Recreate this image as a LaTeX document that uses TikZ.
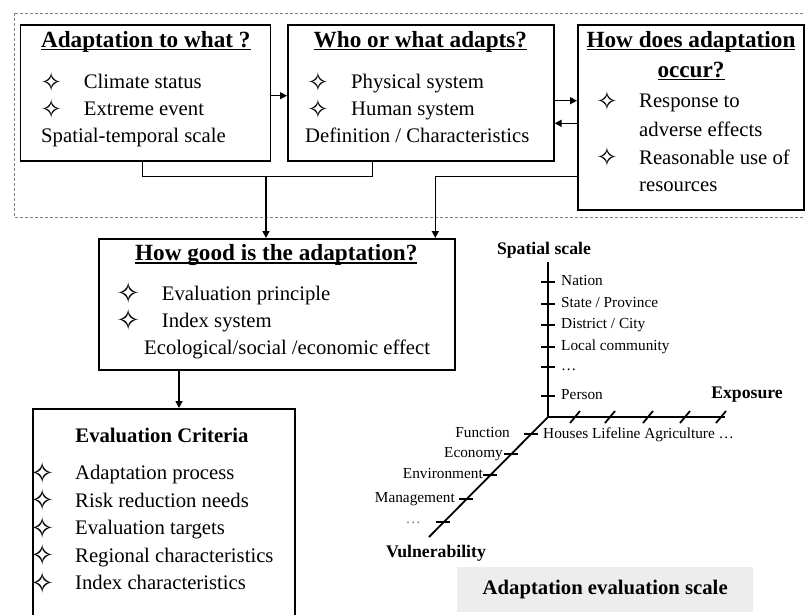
\documentclass[tikz,border=0pt]{standalone}
\usepackage{fontspec}
\setmainfont{Liberation Serif}
\newfontfamily\symfont{DejaVu Sans}
\usetikzlibrary{arrows.meta,calc}
\newcommand\ulx[1]{\setbox0\hbox{#1}\rlap{\rule[-2.8pt]{\wd0}{1.3pt}}\box0}
\newcommand\starg[1]{{\fontsize{#1}{#1}\symfont\setbox2\hbox{✧}\raisebox{\dimexpr(\dp2-\ht2)/2\relax}[3pt][3pt]{\copy2}}}
\newcommand\sa{\starg{26pt}}
\newcommand\sbb{\starg{29pt}}
\begin{document}
\begin{tikzpicture}[x=1pt,y=-1pt,
 box/.style={draw, line width=1.6pt, inner sep=0pt, anchor=north west},
 arr/.style={line width=1.4pt, -{Triangle[length=7pt,width=7pt]}},
 con/.style={line width=1.4pt},
 body/.style={font=\fontsize{20.7}{24}\selectfont, inner sep=0pt, anchor=base west},
 ttl/.style={font=\fontsize{23.2}{26}\selectfont\bfseries, inner sep=0pt, anchor=base},
 sym/.style={inner sep=0pt},
 lab/.style={font=\fontsize{15.3}{17}\selectfont, inner sep=0pt, text height=10.5pt, text depth=3pt},
 axn/.style={font=\fontsize{17.7}{20}\selectfont\bfseries, inner sep=0pt},
 ax/.style={line width=1.8pt},
]
\useasboundingbox (0,0) rectangle (805,614);
\clip (0,0) rectangle (805,614);

% dashed group
\draw[gray, line width=0.9pt, dash pattern=on 3pt off 2pt] (14,13) rectangle (812,217);

% boxes
\node[box, minimum width=250pt, minimum height=136pt] (b1) at (19.5,24) {};
\node[box, minimum width=266pt, minimum height=136pt] (b2) at (287,24) {};
\node[box, minimum width=226pt, minimum height=185pt] (b3) at (577,24) {};
\node[box, minimum width=356pt, minimum height=131pt] (hg) at (98,238) {};
\node[box, minimum width=262pt, minimum height=230pt] (ec) at (32,408) {};

% box 1
\node[ttl] (t1) at (145.8,47) {\ulx{Adaptation to what ?}};
\node[sym] (s11) at (51.3,81.7) {\sa};
\node[body] (x11) at (83.7,88.7) {Climate status};
\node[sym] (s12) at (51.3,108.7) {\sa};
\node[body] (x12) at (83.7,115.7) {Extreme event};
\node[body] (x13) at (41,142.7) {Spatial-temporal scale};

% box 2
\node[ttl] (t2) at (420.4,47) {\ulx{Who or what adapts?}};
\node[sym] (s21) at (318,81.7) {\sa};
\node[body] (x21) at (351,88.7) {Physical system};
\node[sym] (s22) at (318,108.7) {\sa};
\node[body] (x22) at (351,115.7) {Human system};
\node[body] (x23) at (305,142.7) {Definition / Characteristics};

% box 3
\node[ttl] (t3a) at (691,47) {\ulx{How does adaptation}};
\node[ttl] (t3b) at (691,77) {\ulx{occur?}};
\node[sym] (s31) at (607,100.5) {\sa};
\node[body] (x31) at (639,107.5) {Response to};
\node[body] (x32) at (639,136.7) {adverse effects};
\node[sym] (s33) at (607,157.3) {\sa};
\node[body] (x33) at (639,164.3) {Reasonable use of};
\node[body] (x34) at (639,191.7) {resources};

% how good box
\node[ttl] (t4) at (276.3,260.7) {\ulx{How good is the adaptation?}};
\node[sym] (s41) at (129,293.3) {\sbb};
\node[body] (x41) at (161.7,300.3) {Evaluation principle};
\node[sym] (s42) at (129,320) {\sbb};
\node[body] (x42) at (161.7,327) {Index system};
\node[body] (x43) at (144,354.7) {Ecological/social /economic effect};

% evaluation criteria box
\node[font=\fontsize{20.7}{24}\selectfont\bfseries, inner sep=0pt, anchor=base] (t5) at (162,442) {Evaluation Criteria};
\node[sym] (s51) at (43,472.7) {\sbb};
\node[body] (x51) at (75,479.7) {Adaptation process};
\node[sym] (s52) at (43,500) {\sbb};
\node[body] (x52) at (75,507) {Risk reduction needs};
\node[sym] (s53) at (43,527.7) {\sbb};
\node[body] (x53) at (75,534.7) {Evaluation targets};
\node[sym] (s54) at (43,555) {\sbb};
\node[body] (x54) at (75,562) {Regional characteristics};
\node[sym] (s55) at (43,582.7) {\sbb};
\node[body] (x55) at (75,589.7) {Index characteristics};

% connectors
\coordinate (ya) at (0,95.7);
\coordinate (yb) at (0,100.7);
\coordinate (yc) at (0,123.3);
\draw[arr] (b1.east |- ya) -- (b2.west |- ya);
\draw[arr] (b2.east |- yb) -- (b3.west |- yb);
\draw[arr] (b3.west |- yc) -- (b2.east |- yc);

\coordinate (j1) at (142.7,176.7);
\coordinate (j2) at (372.7,176.7);
\coordinate (jm) at (266,176.7);
\coordinate (j3) at (435.3,176.7);
\draw[con] (j1 |- b1.south) -- (j1) -- (j2) -- (j2 |- b2.south);
\draw[arr] (jm) -- (jm |- hg.north);
\draw[con] (b3.west |- j3) -- (j3);
\draw[arr] (j3) -- (j3 |- hg.north);
\coordinate (ea) at (179,0);
\draw[arr] (ea |- hg.south) -- (ea |- ec.north);

% axes
\coordinate (O) at (548,417);
\coordinate (atop) at (548,262);
\coordinate (aex) at (725,417);
\coordinate (avu) at (429,537);
\draw[ax] (atop) -- (O) -- (aex);
\draw[ax] (O) -- (avu);
\foreach \y in {282,304,325,347,367,396} \draw[ax] (541,\y) -- (555,\y);
\foreach \x in {575,610,648,685,721} \draw[ax] (\x-5,423) -- (\x+5,411);
\foreach \y in {434,454,475,499,522} \draw[ax] ({548-(\y-417)-7},\y) -- ({548-(\y-417)+7},\y);

\node[axn] (nsp) at (544,250) {Spatial scale};
\node[axn] (nex) at (747,395) {Exposure};
\node[axn] (nvu) at (436,553) {Vulnerability};

\node[lab, anchor=west] (l1) at (561,282) {Nation};
\node[lab, anchor=west] (l2) at (561,304) {State / Province};
\node[lab, anchor=west] (l3) at (561,325) {District / City};
\node[lab, anchor=west] (l4) at (561,347) {Local community};
\node[lab, anchor=west] (l5) at (561,367) {…};
\node[lab, anchor=west] (l6) at (561,396) {Person};
\node[lab, anchor=west] (le) at (543,435) {Houses Lifeline Agriculture …};
\node[lab, anchor=east] (v1) at (510,434) {Function};
\node[lab, anchor=east] (v2) at (503,454) {Economy};
\node[lab, anchor=east] (v3) at (483,475) {Environment};
\node[lab, anchor=east] (v4) at (455,499) {Management};
\node[lab, anchor=east, text=gray] (v5) at (421,520) {…};

% caption
\node[draw=none, fill=black!7, minimum width=296pt, minimum height=45pt, anchor=north west] (cap) at (457,567) {};
\node[font=\fontsize{20.7}{24}\selectfont\bfseries, inner sep=0pt] (capt) at (cap.center) {Adaptation evaluation scale};
\end{tikzpicture}
\end{document}
